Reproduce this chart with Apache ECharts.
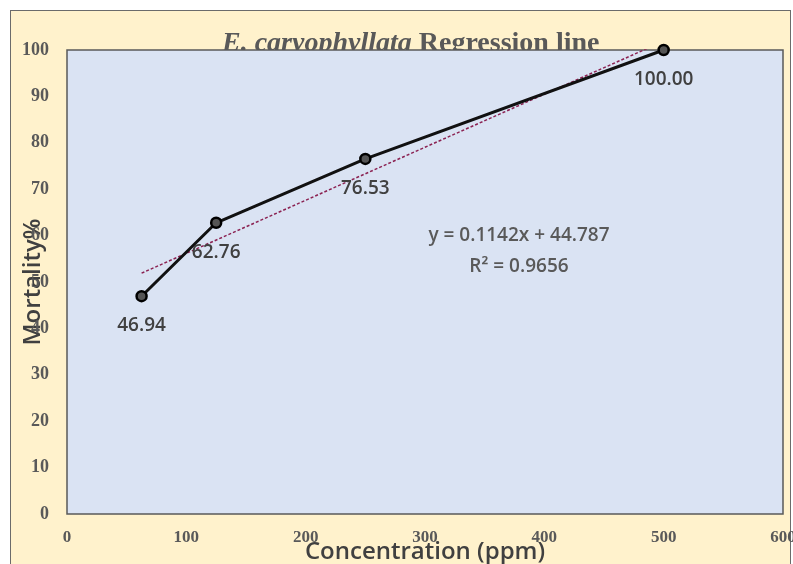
<!DOCTYPE html>
<html>
<head>
<meta charset="utf-8">
<script src="https://cdn.jsdelivr.net/npm/echarts@6/dist/echarts.min.js"></script>
<style>
  html, body { margin: 0; padding: 0; background: #ffffff; }
  #frame { position: absolute; left: 10px; top: 10px; width: 781px; height: 560px; background: #FFF2CC; border: 1px solid #6b6b6b; box-sizing: border-box; }
  #chart { position: absolute; left: 0; top: 0; width: 793px; height: 564px; }
</style>
</head>
<body>
<div id="frame"></div>
<div id="chart"></div>
<script>
const concentration = [62.5, 125, 250, 500];
const mortality = [46.94, 62.76, 76.53, 100.00];
const trendX = [62.5, 500];
const trendY = [51.9, 101.9];
const equationLines = ['y = 0.1142x + 44.787', 'R² = 0.9656'];
const titleItalic = 'E. caryophyllata';
const titleRest = ' Regression line';
const xTitle = 'Concentration (ppm)';
const yTitle = 'Mortality%';

const chart = echarts.init(document.getElementById('chart'), null, { renderer: 'canvas' });

const option = {
  backgroundColor: 'transparent',
  animation: false,
  title: {
    text: '{i|' + titleItalic + '}{b|' + titleRest + '}',
    left: 222,
    top: 30,
    padding: 0,
    textStyle: {
      rich: {
        i: { fontFamily: 'Liberation Serif', fontStyle: 'italic', fontWeight: 'bold', fontSize: 28, color: '#595959' },
        b: { fontFamily: 'Liberation Serif', fontWeight: 'bold', fontSize: 28, color: '#595959' }
      }
    },
    z: -1
  },
  grid: {
    left: 67, right: 10, top: 50, bottom: 50,
    outerBoundsMode: 'none',
    containLabel: false,
    show: true,
    backgroundColor: '#DAE3F3',
    borderColor: '#5a5a5a',
    borderWidth: 1.5,
    z: 2
  },
  xAxis: {
    type: 'value',
    min: 0, max: 600, interval: 100,
    name: xTitle,
    nameLocation: 'middle',
    nameGap: 26,
    nameMoveOverlap: false,
    nameTextStyle: { fontFamily: 'Open Sans', fontSize: 24, color: '#404040', fontWeight: 600 },
    axisLine: { show: false },
    axisTick: { show: false },
    splitLine: { show: false },
    axisLabel: { margin: 15, fontFamily: 'Liberation Serif', fontWeight: 'bold', fontSize: 17, color: '#595959' }
  },
  yAxis: {
    type: 'value',
    min: 0, max: 100, interval: 10,
    name: yTitle,
    nameLocation: 'middle',
    nameGap: 22,
    nameMoveOverlap: false,
    nameTextStyle: { fontFamily: 'Open Sans', fontSize: 24, color: '#404040', fontWeight: 600 },
    axisLine: { show: false },
    axisTick: { show: false },
    splitLine: { show: false },
    axisLabel: { margin: 18, fontFamily: 'Liberation Serif', fontWeight: 'bold', fontSize: 18, color: '#595959' }
  },
  series: [
    {
      type: 'line',
      data: trendX.map((x, i) => [x, trendY[i]]),
      symbol: 'none',
      lineStyle: { color: '#8B2252', width: 1.5, type: [3, 2] },
      z: 3
    },
    {
      type: 'line',
      data: concentration.map((x, i) => [x, mortality[i]]),
      symbol: 'circle',
      symbolSize: 10,
      lineStyle: { color: '#111111', width: 3 },
      itemStyle: { color: '#555555', borderColor: '#000000', borderWidth: 2.5 },
      label: {
        show: true,
        position: 'bottom',
        distance: 14,
        formatter: p => p.value[1].toFixed(2),
        fontFamily: 'Open Sans',
        fontWeight: 600,
        fontSize: 19,
        color: '#404040'
      },
      z: 4
    }
  ],
  graphic: [
    {
      type: 'text',
      x: 519,
      y: 220,
      style: { text: equationLines.join('\n'), fontFamily: 'Open Sans', fontWeight: 600, fontSize: 19, lineHeight: 31, fill: '#595959', align: 'center', verticalAlign: 'top' },
      z: 5
    }
  ]
};
chart.setOption(option);
</script>
</body>
</html>
